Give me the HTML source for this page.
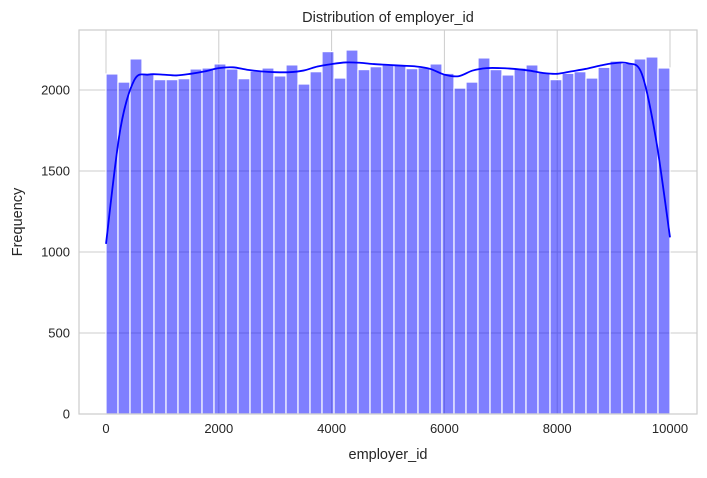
<!DOCTYPE html>
<html><head><meta charset="utf-8"><style>
body{margin:0;background:#fff;}
svg text{font-family:"Liberation Sans","DejaVu Sans",sans-serif;fill:#262626;}
</style></head><body>
<svg id="chart" width="707" height="473">
<text x="388" y="22" font-size="14.5" text-anchor="middle">Distribution of employer_id</text>
<text x="388" y="459" font-size="14.5" text-anchor="middle">employer_id</text>
<text x="22" y="222" font-size="14.5" text-anchor="middle" transform="rotate(-90 22 222)">Frequency</text>
<g id="grid"></g><g id="bars"></g><g id="kde"></g><g id="ticks"></g>
<rect x="79" y="30" width="618" height="384" fill="none" stroke="#cccccc" stroke-width="1.2"/>
</svg>
<script>
const counts=[2099,2049,2192,2105,2064,2064,2070,2130,2136,2161,2130,2070,2117,2136,2087,2155,2037,2113,2237,2074,2247,2126,2144,2155,2152,2132,2138,2161,2103,2012,2049,2198,2126,2093,2136,2155,2107,2064,2103,2113,2074,2140,2179,2165,2192,2204,2136];
const kdeX=[0,250,500,750,1000,1250,1500,1750,2000,2250,2500,2750,3000,3250,3500,3750,4000,4250,4500,4750,5000,5250,5500,5750,6000,6250,6500,6750,7000,7250,7500,7750,8000,8250,8500,8750,9000,9250,9500,9750,10000];
const kdeY=[1050,1750,2060,2095,2095,2090,2100,2115,2135,2140,2125,2115,2110,2110,2120,2145,2160,2170,2168,2160,2155,2150,2145,2130,2095,2085,2120,2135,2135,2130,2120,2105,2100,2115,2130,2150,2165,2165,2100,1700,1090];
const xTicks=[0,2000,4000,6000,8000,10000];
const yTicks=[0,500,1000,1500,2000];
const xMin=0,xMax=10000;
const sx=v=>106+(v-xMin)/(xMax-xMin)*564;
const sy=v=>414-v*324/2000;
const NS='http://www.w3.org/2000/svg';
function mk(t,a,p){const e=document.createElementNS(NS,t);for(const k in a)e.setAttribute(k,a[k]);p.appendChild(e);return e;}
const grid=document.getElementById('grid'),ticks=document.getElementById('ticks'),bars=document.getElementById('bars'),kde=document.getElementById('kde');
xTicks.forEach(t=>{const l=mk('line',{x1:sx(t),x2:sx(t),y1:30,y2:414,stroke:'#cccccc','stroke-width':1},grid);


const tx=mk('text',{x:sx(t),y:433,'font-size':13,'text-anchor':'middle'},ticks);tx.textContent=t;

});
yTicks.forEach(t=>{const l=mk('line',{x1:79,x2:697,y1:sy(t),y2:sy(t),stroke:'#cccccc','stroke-width':1},grid);


const tx=mk('text',{x:70,y:sy(t)+4.5,'font-size':13,'text-anchor':'end'},ticks);tx.textContent=t;

});
const bw=(xMax-xMin)/counts.length;
counts.forEach((c,i)=>{const x0=sx(xMin+i*bw),x1=sx(xMin+(i+1)*bw);
const r=mk('rect',{x:x0,y:sy(c),width:x1-x0,height:sy(0)-sy(c),fill:'rgba(0,0,255,0.5)',stroke:'#fff','stroke-width':1.2},bars);

});
const pts=kdeX.map((v,i)=>[sx(v),sy(kdeY[i])]);
let d='M'+pts[0][0]+','+pts[0][1];
for(let i=0;i<pts.length-1;i++){const p0=pts[Math.max(0,i-1)],p1=pts[i],p2=pts[i+1],p3=pts[Math.min(pts.length-1,i+2)];
d+=' C'+(p1[0]+(p2[0]-p0[0])/6)+','+(p1[1]+(p2[1]-p0[1])/6)+' '+(p2[0]-(p3[0]-p1[0])/6)+','+(p2[1]-(p3[1]-p1[1])/6)+' '+p2[0]+','+p2[1];}
const path=mk('path',{d:d,fill:'none',stroke:'#0000ff','stroke-width':1.8},kde);


</script>
</body></html>
